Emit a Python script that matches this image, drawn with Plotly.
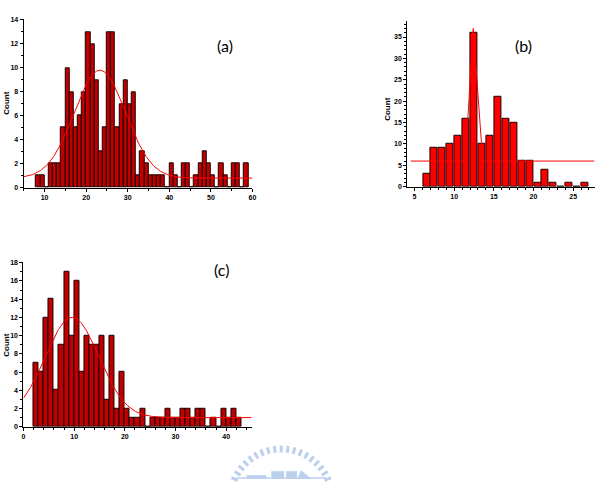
import numpy as np
import plotly.graph_objects as go

W, H = 603, 488

# ---------------- data ----------------
# (a) histogram, bin width 1, bins start at 8
a_bin_start = 8
a_counts = [1, 1, 0, 2, 2, 2, 5, 10, 8, 5, 6, 8, 13, 12, 9, 3, 5, 13, 13, 5,
            7, 9, 7, 8, 1, 3, 2, 1, 1, 1, 1, 0, 2, 1, 0, 2, 2, 0, 1, 2,
            3, 2, 1, 0, 2, 1, 0, 2, 2, 0, 2]
# Gaussian fit parameters (a): baseline, amplitude, centre, sigma
a_fit = dict(y0=0.8, A=9.0, xc=23.3, s=6.2)
a_fit_x = [5, 60]

# (b) histogram, bin width 1, bins start at 6
b_bin_start = 6
b_counts = [3, 9, 9, 10, 12, 16, 36, 10, 12, 21, 16, 15, 6, 6, 1, 4, 1, 0, 1, 0, 1]
# (b) fit curve vertices as drawn
b_fit_x = [4.5, 11.4, 12.4, 13.6, 27.7]
b_fit_y = [6, 6, 37, 6, 6]

# (c) histogram, bin width 1, bins start at 2
c_bin_start = 2
c_counts = [7, 6, 12, 14, 4, 9, 17, 10, 16, 6, 10, 9, 9, 10, 3, 10, 2, 6, 2, 1,
            1, 2, 0, 1, 1, 1, 2, 1, 1, 2, 2, 1, 2, 2, 0, 1, 0, 2, 1, 2, 1]
c_fit = dict(y0=1.0, A=11.0, xc=9.6, s=5.3)
c_fit_x = [0, 45]

panel_labels = ["(a)", "(b)", "(c)"]


def gauss(x, y0, A, xc, s):
    return y0 + A * np.exp(-(x - xc) ** 2 / (2 * s ** 2))


def centers(start, counts):
    return np.arange(start, start + len(counts)) + 0.5


def px_x(p):
    return p / W


def px_y(p):
    return 1 - p / H


fig = go.Figure()

dark_red = "#C00000"
bright_red = "#FF0000"

# (a)
fig.add_trace(go.Bar(x=centers(a_bin_start, a_counts), y=a_counts, width=1,
                     marker=dict(color=dark_red, line=dict(color="#1a0000", width=1)),
                     xaxis="x", yaxis="y", showlegend=False))
xa = np.linspace(a_fit_x[0], a_fit_x[1], 300)
fig.add_trace(go.Scatter(x=xa, y=gauss(xa, **a_fit), mode="lines",
                         line=dict(color=bright_red, width=1), xaxis="x", yaxis="y",
                         showlegend=False))

# (b)
fig.add_trace(go.Bar(x=centers(b_bin_start, b_counts), y=b_counts, width=0.88,
                     marker=dict(color=bright_red, line=dict(color="#1a0000", width=1)),
                     xaxis="x2", yaxis="y2", showlegend=False))
fig.add_trace(go.Scatter(x=b_fit_x, y=b_fit_y, mode="lines",
                         line=dict(color=bright_red, width=1), xaxis="x2", yaxis="y2",
                         showlegend=False))

# (c)
fig.add_trace(go.Bar(x=centers(c_bin_start, c_counts), y=c_counts, width=1,
                     marker=dict(color=dark_red, line=dict(color="#1a0000", width=1)),
                     xaxis="x3", yaxis="y3", showlegend=False))
xc_ = np.linspace(c_fit_x[0], c_fit_x[1], 300)
fig.add_trace(go.Scatter(x=xc_, y=gauss(xc_, **c_fit), mode="lines",
                         line=dict(color=bright_red, width=1), xaxis="x3", yaxis="y3",
                         showlegend=False))

tickfont = dict(family="Liberation Sans", size=7, color="black", weight="bold")


def axis(domain, rng, dtick, minor_dtick, anchor):
    return dict(domain=domain, range=rng, anchor=anchor, dtick=dtick, tick0=0,
                showline=True, linecolor="black", linewidth=1.3, mirror=False,
                ticks="outside", ticklen=3, tickwidth=1, tickcolor="black",
                minor=dict(dtick=minor_dtick, ticks="outside", ticklen=2,
                           tickcolor="black", tickwidth=1),
                showgrid=False, zeroline=False, tickfont=tickfont, fixedrange=True)


fig.update_layout(
    width=W, height=H, margin=dict(l=0, r=0, t=0, b=0),
    paper_bgcolor="white", plot_bgcolor="white", bargap=0,
    xaxis=axis([px_x(22), px_x(253)], [5, 60], 10, 5, "y"),
    yaxis=axis([px_y(187), px_y(16.5)], [0, 14.05], 2, 1, "x"),
    xaxis2=axis([px_x(409.5), px_x(598.5)], [4.1, 27.7], 5, 1, "y2"),
    yaxis2=axis([px_y(186), px_y(18)], [0, 38.8], 5, 1, "x2"),
    xaxis3=axis([px_x(21.7), px_x(253)], [0, 45.2], 10, 2, "y3"),
    yaxis3=axis([px_y(429), px_y(262)], [0, 18.1], 2, 1, "x3"),
)

count_font = dict(family="Liberation Sans", size=8, color="black", weight="bold")
annos = [
    dict(x=px_x(5), y=px_y(101), text="Count", textangle=-90, font=count_font),
    dict(x=px_x(390), y=px_y(108), text="Count", textangle=-90, font=count_font),
    dict(x=px_x(5), y=px_y(346), text="Count", textangle=-90, font=count_font),
    dict(x=px_x(225), y=px_y(43), text=panel_labels[0],
         font=dict(family="Lato", size=16, color="black")),
    dict(x=px_x(527), y=px_y(43), text=panel_labels[1],
         font=dict(family="Lato", size=16, color="black")),
    dict(x=px_x(222), y=px_y(270), text=panel_labels[2],
         font=dict(family="Lato", size=16, color="black")),
]
for a in annos:
    fig.add_annotation(xref="paper", yref="paper", showarrow=False,
                       xanchor="center", yanchor="middle", **a)

# faint watermark logo (decorative)
wm = "#BCD0EE"
cx, cy, r1, r2 = 282, 503, 55, 48
for ang in np.linspace(24, 156, 19):
    t = np.radians(ang)
    fig.add_shape(type="line", xref="paper", yref="paper",
                  x0=px_x(cx + r2 * np.cos(t)), y0=px_y(cy - r2 * np.sin(t)),
                  x1=px_x(cx + r1 * np.cos(t)), y1=px_y(cy - r1 * np.sin(t)),
                  line=dict(color=wm, width=3))
fig.add_shape(type="line", xref="paper", yref="paper",
              x0=px_x(236), x1=px_x(328), y0=px_y(481), y1=px_y(481),
              line=dict(color=wm, width=1.5))
fig.add_shape(type="rect", xref="paper", yref="paper",
              x0=px_x(247), x1=px_x(267), y0=px_y(482), y1=px_y(478),
              line=dict(width=0), fillcolor=wm)
fig.add_shape(type="rect", xref="paper", yref="paper",
              x0=px_x(272), x1=px_x(285), y0=px_y(482), y1=px_y(474),
              line=dict(width=0), fillcolor=wm)
fig.add_shape(type="rect", xref="paper", yref="paper",
              x0=px_x(287), x1=px_x(298), y0=px_y(482), y1=px_y(474),
              line=dict(width=0), fillcolor=wm)
fig.add_shape(type="path", xref="paper", yref="paper",
              path=f"M {px_x(298)} {px_y(482)} L {px_x(313)} {px_y(482)} L {px_x(302)} {px_y(473)} Z",
              line=dict(width=0), fillcolor=wm)

fig.write_html("out.html")
